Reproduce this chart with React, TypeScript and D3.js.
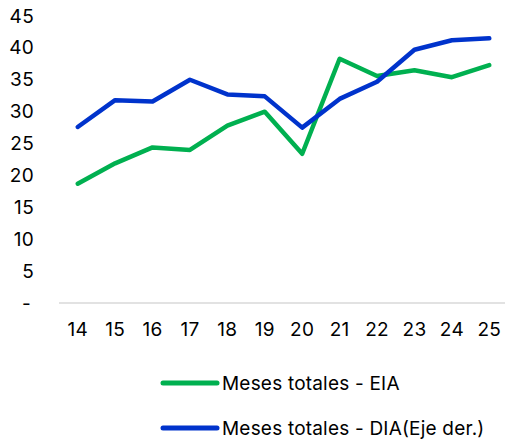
import React, { useRef, useEffect } from 'react';
import * as d3 from 'd3';

// datos
const years = ['14', '15', '16', '17', '18', '19', '20', '21', '22', '23', '24', '25'];
const eiaValues = [18.7, 21.9, 24.4, 24.0, 27.8, 30.0, 23.4, 38.3, 35.6, 36.5, 35.4, 37.3];
const diaValues = [27.6, 31.8, 31.6, 35.0, 32.7, 32.4, 27.5, 32.0, 34.7, 39.7, 41.2, 41.5];
const yTicks = [0, 5, 10, 15, 20, 25, 30, 35, 40, 45];
const seriesNames = ['Meses totales - EIA', 'Meses totales - DIA(Eje der.)'];
const seriesColors = ['#00B050', '#0033CC'];

const FONT = 'Inter, "Open Sans", sans-serif';

const App: React.FC = () => {
  const svgRef = useRef<SVGSVGElement | null>(null);
  const W = 505;
  const H = 440;

  useEffect(() => {
    if (!svgRef.current) return;
    const svg = d3.select(svgRef.current);
    svg.selectAll('*').remove();

    const x = d3.scaleBand<string>().domain(years).range([59, 508]);
    const y = d3.scaleLinear().domain([0, 45]).range([303, 16]);

    // eje Y (etiquetas solamente)
    const yAxis = svg.append('g')
      .attr('transform', 'translate(34,0)')
      .call(d3.axisLeft(y).tickValues(yTicks).tickSize(0).tickPadding(0)
        .tickFormat(d => (+d === 0 ? '-' : String(d))));
    yAxis.select('.domain').remove();
    yAxis.selectAll('text')
      .attr('font-family', FONT)
      .attr('font-size', 19)
      .attr('letter-spacing', 0.3)
      .attr('fill', '#000')
      .attr('dx', d => (+d === 0 ? -3 : 0));

    // línea base
    svg.append('line')
      .attr('x1', 59).attr('x2', 508)
      .attr('y1', y(0)).attr('y2', y(0))
      .attr('stroke', '#d9d9d9')
      .attr('stroke-width', 1.5);

    // eje X
    const xAxis = svg.append('g')
      .attr('transform', `translate(0,${y(0)})`)
      .call(d3.axisBottom(x).tickSize(0).tickPadding(20));
    xAxis.select('.domain').remove();
    xAxis.selectAll('text')
      .attr('font-family', FONT)
      .attr('font-size', 19)
      .attr('letter-spacing', 0.3)
      .attr('fill', '#000');

    const line = d3.line<number>()
      .x((_, i) => x(years[i])! + x.bandwidth() / 2)
      .y(d => y(d));

    [eiaValues, diaValues].forEach((vals, i) => {
      svg.append('path')
        .datum(vals)
        .attr('d', line)
        .attr('fill', 'none')
        .attr('stroke', seriesColors[i])
        .attr('stroke-width', 4.5)
        .attr('stroke-linejoin', 'round')
        .attr('stroke-linecap', 'round');
    });

    // leyenda
    const legend = svg.append('g').attr('transform', 'translate(163,383)');
    seriesNames.forEach((name, i) => {
      const g = legend.append('g').attr('transform', `translate(0,${i * 45})`);
      g.append('line')
        .attr('x1', 0).attr('x2', 54)
        .attr('stroke', seriesColors[i])
        .attr('stroke-width', 5)
        .attr('stroke-linecap', 'round');
      g.append('text')
        .attr('x', 59)
        .attr('dy', '0.35em')
        .attr('font-family', FONT)
        .attr('font-size', 19)
        .attr('letter-spacing', 0.2)
        .attr('fill', '#000')
        .text(name);
    });
  }, []);

  return (
    <svg ref={svgRef} width={W} height={H}
      style={{ position: 'absolute', left: 0, top: 0, background: '#fff' }} />
  );
};

export default App;
